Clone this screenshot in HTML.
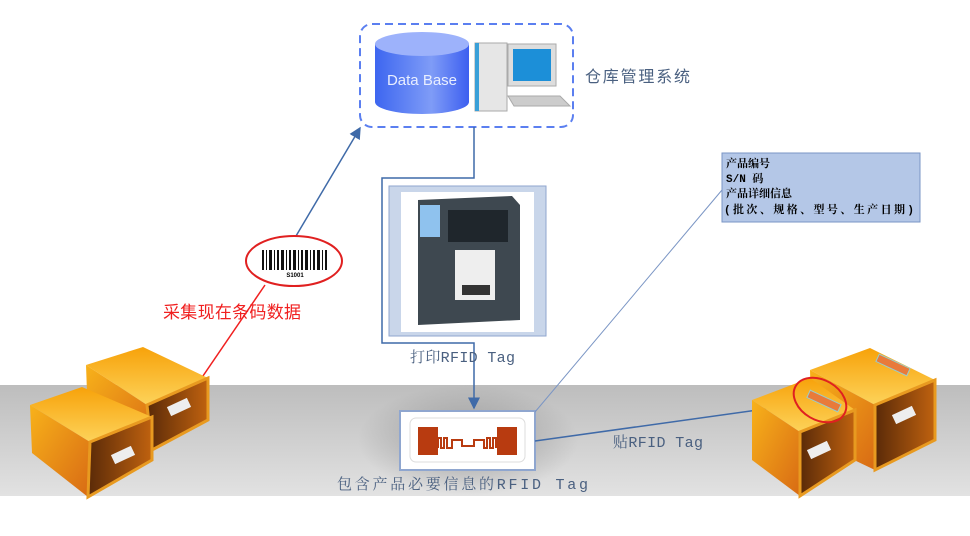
<!DOCTYPE html>
<html><head><meta charset="utf-8"><style>
body{margin:0;background:#fff;}
svg{display:block;font-family:"Liberation Sans","Noto Sans CJK SC",sans-serif;}
.m{font-family:"Liberation Mono","Noto Serif CJK SC",monospace;}
</style></head><body>
<svg width="970" height="536" viewBox="0 0 970 536">
<defs>
<linearGradient id="g" x1="0" y1="0" x2="0" y2="1"><stop offset="0" stop-color="#bdbdbd"/><stop offset="1" stop-color="#e2e2e2"/></linearGradient>
<linearGradient id="db" x1="0" x2="1"><stop offset="0" stop-color="#3d66f0"/><stop offset=".6" stop-color="#7f9cf7"/><stop offset="1" stop-color="#3d5ff0"/></linearGradient>
<linearGradient id="top" x1="0" y1="0" x2="0" y2="1"><stop offset="0" stop-color="#f7a20a"/><stop offset="1" stop-color="#fdd35a"/></linearGradient>
<linearGradient id="fr" x1="0" y1="0" x2="1" y2="1"><stop offset="0" stop-color="#f8b21a"/><stop offset="1" stop-color="#d86a14"/></linearGradient>
<linearGradient id="in" x1="0" x2="1"><stop offset="0" stop-color="#5a2a08"/><stop offset="1" stop-color="#c0620f"/></linearGradient>
<radialGradient id="sh" cx=".5" cy=".5" r=".5"><stop offset="0" stop-color="#777" stop-opacity=".6"/><stop offset="1" stop-color="#777" stop-opacity="0"/></radialGradient>
<marker id="a" markerWidth="8" markerHeight="8" refX="7" refY="4" orient="auto"><path d="M0,0L8,4L0,8z" fill="#3f6aa8"/></marker>
</defs>
<rect x="0" y="385" width="970" height="111" fill="url(#g)"/>
<ellipse cx="468" cy="440" rx="110" ry="55" fill="url(#sh)"/>
<!-- DB box -->
<rect x="360" y="24" width="213" height="103" rx="12" fill="none" stroke="#5b7ff0" stroke-width="2" stroke-dasharray="8,5"/>
<path d="M375,44 v58 a47,12 0 0 0 94,0 v-58z" fill="url(#db)"/>
<ellipse cx="422" cy="44" rx="47" ry="12" fill="#9db2fb"/>
<text x="422" y="85" font-size="15" fill="#e8eeff" text-anchor="middle">Data Base</text>
<rect x="475" y="43" width="32" height="68" fill="#e6e6e6" stroke="#aaa"/>
<rect x="475" y="43" width="4" height="68" fill="#3aa0d8"/>
<rect x="508" y="44" width="48" height="42" fill="#ddd" stroke="#aaa"/>
<rect x="513" y="49" width="38" height="32" fill="#1c8fd8"/>
<path d="M508,96 L560,96 L570,106 L514,106z" fill="#ccc" stroke="#aaa"/>
<text x="585" y="82" font-size="16" fill="#4a6080" textLength="105">仓库管理系统</text>
<!-- printer -->
<path d="M474,127 V178 H382 V343 H474 V408" fill="none" stroke="#3f6aa8" stroke-width="1.5" marker-end="url(#a)"/>
<rect x="389" y="186" width="157" height="150" fill="#c9d6ea" stroke="#8fa6cf"/>
<rect x="401" y="192" width="133" height="140" fill="#fff"/>
<path d="M418,200 L512,196 L520,205 L520,320 L418,325z" fill="#3e4850"/>
<rect x="420" y="205" width="20" height="32" fill="#8fc2ee"/>
<rect x="448" y="210" width="60" height="32" fill="#1f262c"/>
<rect x="455" y="250" width="40" height="50" fill="#eee"/>
<rect x="462" y="285" width="28" height="10" fill="#333"/>
<text x="410" y="362" font-size="15" fill="#4a6080" class="m" textLength="105">打印RFID Tag</text>
<!-- tag -->
<rect x="400" y="411" width="135" height="59" fill="#fff" stroke="#8fa6cf" stroke-width="2"/>
<rect x="410" y="418" width="115" height="44" rx="6" fill="#fff" stroke="#ddd"/>
<rect x="418" y="427" width="20" height="28" fill="#b83b10"/>
<rect x="497" y="427" width="20" height="28" fill="#b83b10"/>
<path d="M438,448 v-10 h3 v10 h3 v-10 h3 v10 h5 v-8 h10 v6 h12 v-6 h10 v8 h3 v-10 h3 v10 h3 v-10 h3 v10" fill="none" stroke="#b83b10" stroke-width="2"/>
<text x="337" y="489" font-size="15" fill="#4a6080" class="m" textLength="251">包含产品必要信息的RFID Tag</text>
<!-- info -->
<rect x="722" y="153" width="198" height="69" fill="#b4c7e7" stroke="#7a95c4"/>
<g font-size="11" font-weight="bold" fill="#000" font-family="'Liberation Mono','Noto Serif CJK SC',monospace"><text x="726" y="167">产品编号</text><text x="726" y="182">S/N 码</text><text x="726" y="197">产品详细信息</text><text x="724" y="213" textLength="190">(批次、规格、型号、生产日期)</text></g>
<line x1="535" y1="412" x2="722" y2="190" stroke="#7a95c4"/>
<line x1="535" y1="441" x2="808" y2="403" stroke="#3f6aa8" stroke-width="1.5" marker-end="url(#a)"/>
<text x="613" y="447" font-size="15" fill="#4a6080" class="m" textLength="90">贴RFID Tag</text>
<!-- barcode -->
<line x1="296" y1="236" x2="360" y2="128" stroke="#3f6aa8" stroke-width="1.5" marker-end="url(#a)"/>
<line x1="265" y1="285" x2="190" y2="395" stroke="#f02020" stroke-width="1.5"/>
<ellipse cx="294" cy="261" rx="48" ry="25" fill="#fff" stroke="#e02020" stroke-width="2"/>
<g fill="#111"><rect x="262" y="250" width="2" height="20"/><rect x="266" y="250" width="1" height="20"/><rect x="269" y="250" width="3" height="20"/><rect x="274" y="250" width="1" height="20"/><rect x="277" y="250" width="2" height="20"/><rect x="281" y="250" width="3" height="20"/><rect x="286" y="250" width="1" height="20"/><rect x="289" y="250" width="2" height="20"/><rect x="293" y="250" width="3" height="20"/><rect x="298" y="250" width="1" height="20"/><rect x="301" y="250" width="2" height="20"/><rect x="305" y="250" width="3" height="20"/><rect x="310" y="250" width="1" height="20"/><rect x="313" y="250" width="2" height="20"/><rect x="317" y="250" width="3" height="20"/><rect x="322" y="250" width="1" height="20"/><rect x="325" y="250" width="2" height="20"/></g>
<text x="295" y="277" font-size="6" text-anchor="middle" font-weight="bold">S1001</text>
<text x="163" y="318" font-size="17" fill="#f02020" textLength="138">采集现在条码数据</text>
<!-- left boxes -->
<polygon points="86,365 143,347 208,378 147,405" fill="url(#top)"/>
<polygon points="86,365 147,405 152,450 88,420" fill="url(#fr)"/>
<polygon points="147,405 208,378 208,420 152,450" fill="url(#in)" stroke="#e89a20" stroke-width="3"/>
<polygon points="30,405 82,387 152,417 90,442" fill="url(#top)"/>
<polygon points="30,405 90,442 88,497 32,453" fill="url(#fr)"/>
<polygon points="90,442 152,417 152,460 88,497" fill="url(#in)" stroke="#e89a20" stroke-width="3"/>
<rect x="112" y="450" width="22" height="10" fill="#eee" transform="rotate(-25 123 455)"/>
<rect x="168" y="402" width="22" height="10" fill="#eee" transform="rotate(-25 179 407)"/>
<!-- right boxes -->
<polygon points="810,370 870,348 935,380 875,405" fill="url(#top)"/>
<polygon points="810,370 875,405 875,470 812,440" fill="url(#fr)"/>
<polygon points="875,405 935,380 935,440 875,470" fill="url(#in)" stroke="#e89a20" stroke-width="3"/>
<polygon points="752,400 810,378 855,410 800,432" fill="url(#top)"/>
<polygon points="752,400 800,432 800,496 752,460" fill="url(#fr)"/>
<polygon points="800,432 855,410 855,460 800,496" fill="url(#in)" stroke="#e89a20" stroke-width="3"/>
<rect x="876" y="361" width="34" height="8" fill="#e97a3a" stroke="#9cc" transform="rotate(25 893 365)"/>
<rect x="807" y="397" width="34" height="8" fill="#e97a3a" stroke="#9cc" transform="rotate(25 824 401)"/>
<rect x="808" y="445" width="22" height="10" fill="#eee" transform="rotate(-25 819 450)"/>
<rect x="893" y="410" width="22" height="10" fill="#eee" transform="rotate(-25 904 415)"/>
<ellipse cx="820" cy="400" rx="28" ry="20" transform="rotate(30 820 400)" fill="none" stroke="#e02020" stroke-width="2"/>
</svg>
</body></html>
